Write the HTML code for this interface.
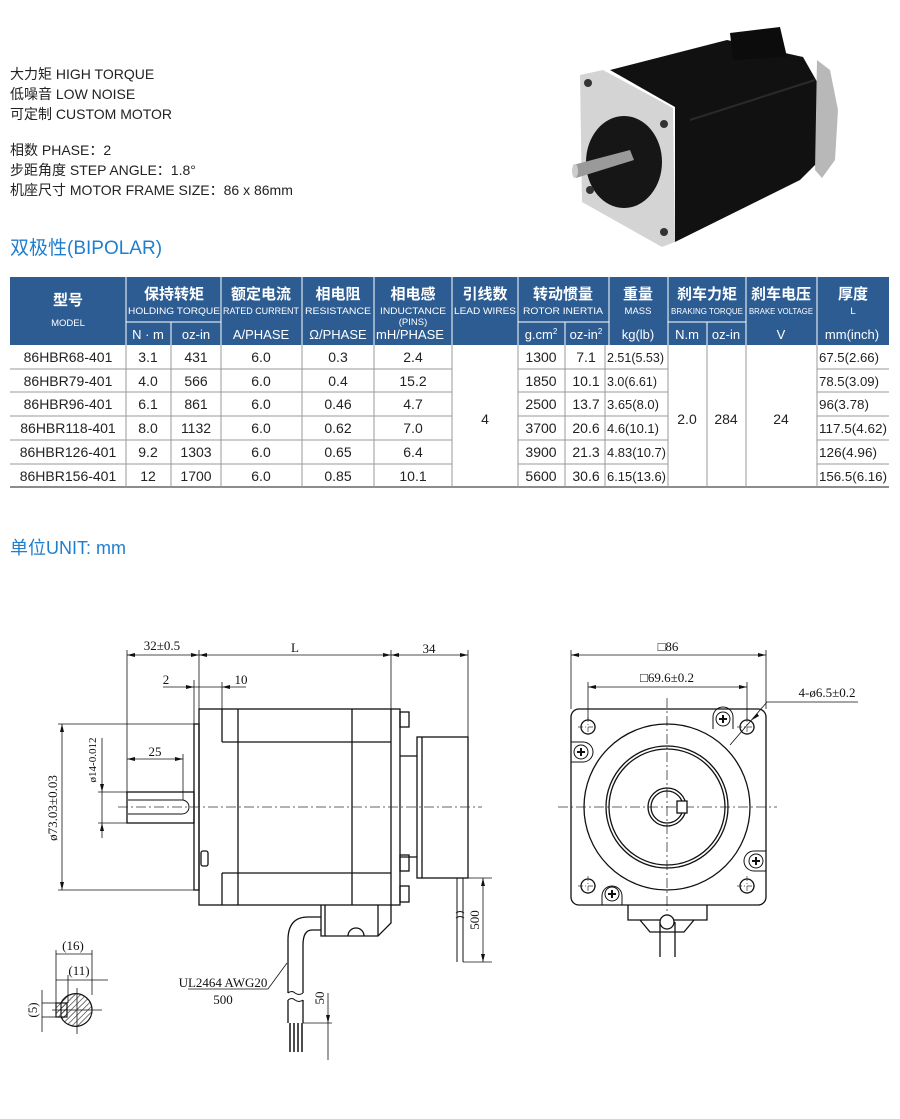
<!DOCTYPE html>
<html><head><meta charset="utf-8"><style>
html,body{margin:0;padding:0;background:#fff;}
svg{display:block;font-family:"Liberation Sans","Noto Sans CJK SC",sans-serif;}
.d{font-family:"Liberation Serif","Noto Serif CJK SC",serif;font-size:13px;fill:#111;}
</style></head><body>
<svg width="900" height="1119" viewBox="0 0 900 1119" xmlns="http://www.w3.org/2000/svg">
<!-- intro text -->
<g font-size="14" fill="#222">
<text x="10" y="79">大力矩 HIGH TORQUE</text>
<text x="10" y="99">低噪音 LOW NOISE</text>
<text x="10" y="119">可定制 CUSTOM MOTOR</text>
<text x="10" y="155">相数 PHASE：2</text>
<text x="10" y="175">步距角度 STEP ANGLE：1.8°</text>
<text x="10" y="195">机座尺寸 MOTOR FRAME SIZE：86 x 86mm</text>
</g>
<text x="10" y="254" font-size="19" fill="#1f7fcf">双极性(BIPOLAR)</text>
<text x="10" y="554" font-size="18" fill="#1f7fcf">单位UNIT: mm</text>

<!-- photo -->
<g>
<polygon points="610,70 727,40 803,57 820,87 817,163 800,180 675,242 675,107" fill="#111"/>
<polygon points="730,33 780,27 787,57 733,60" fill="#0c0c0c"/>
<polygon points="817,60 830,70 838,110 835,160 822,178 815,170" fill="#b8b8b8"/>
<polygon points="580,75 603,70 673,108 675,242 662,247 582,202" fill="#d4d4d4"/>
<ellipse cx="624" cy="162" rx="38" ry="46" fill="#161616"/>
<circle cx="588" cy="83" r="4" fill="#333"/><circle cx="664" cy="124" r="4" fill="#333"/>
<circle cx="590" cy="190" r="4" fill="#333"/><circle cx="664" cy="232" r="4" fill="#333"/>
<polygon points="573,165 630,150 634,160 576,178" fill="#9a9a9a"/>
<ellipse cx="575" cy="171" rx="3" ry="7" fill="#ccc"/>
<line x1="690" y1="120" x2="815" y2="80" stroke="#2a2a2a" stroke-width="2"/>
</g>

<!-- table header -->
<rect x="10" y="277" width="879" height="68" fill="#2d5c92"/>
<g stroke="#fff" stroke-width="1">
<line x1="126" y1="277" x2="126" y2="345"/><line x1="221" y1="277" x2="221" y2="345"/>
<line x1="302" y1="277" x2="302" y2="345"/><line x1="374" y1="277" x2="374" y2="345"/>
<line x1="452" y1="277" x2="452" y2="345"/><line x1="518" y1="277" x2="518" y2="345"/>
<line x1="609" y1="277" x2="609" y2="345"/><line x1="668" y1="277" x2="668" y2="345"/>
<line x1="746" y1="277" x2="746" y2="345"/><line x1="817" y1="277" x2="817" y2="345"/>
<line x1="171" y1="322" x2="171" y2="345"/><line x1="565" y1="322" x2="565" y2="345"/><line x1="707" y1="322" x2="707" y2="345"/>
<line x1="126" y1="322" x2="221" y2="322"/><line x1="518" y1="322" x2="609" y2="322"/><line x1="668" y1="322" x2="746" y2="322"/>
</g>
<g fill="#fff" text-anchor="middle">
<g font-size="15" font-weight="bold">
<text x="68" y="305">型号</text><text x="174" y="299">保持转矩</text><text x="261" y="299">额定电流</text>
<text x="338" y="299">相电阻</text><text x="413" y="299">相电感</text><text x="485" y="299">引线数</text>
<text x="563" y="299">转动惯量</text><text x="638" y="299">重量</text><text x="707" y="299">刹车力矩</text>
<text x="781" y="299">刹车电压</text><text x="853" y="299">厚度</text>
</g>
<g font-size="9.5">
<text x="68" y="326">MODEL</text>
<text x="174" y="314" textLength="92" lengthAdjust="spacingAndGlyphs">HOLDING TORQUE</text>
<text x="261" y="314" textLength="76" lengthAdjust="spacingAndGlyphs">RATED CURRENT</text>
<text x="338" y="314" textLength="66" lengthAdjust="spacingAndGlyphs">RESISTANCE</text>
<text x="413" y="314" textLength="66" lengthAdjust="spacingAndGlyphs">INDUCTANCE</text>
<text x="413" y="325">(PINS)</text>
<text x="485" y="314" textLength="62" lengthAdjust="spacingAndGlyphs">LEAD WIRES</text>
<text x="563" y="314" textLength="80" lengthAdjust="spacingAndGlyphs">ROTOR INERTIA</text>
<text x="638" y="314">MASS</text>
<text x="707" y="314" font-size="8" textLength="72" lengthAdjust="spacingAndGlyphs">BRAKING TORQUE</text>
<text x="781" y="314" font-size="8" textLength="64" lengthAdjust="spacingAndGlyphs">BRAKE VOLTAGE</text>
<text x="853" y="314">L</text>
</g>
<g font-size="13">
<text x="148" y="339">N · m</text><text x="196" y="339">oz-in</text><text x="261" y="339">A/PHASE</text>
<text x="338" y="339">Ω/PHASE</text><text x="410" y="339">mH/PHASE</text>
<text x="541" y="339">g.cm<tspan font-size="8" dy="-5">2</tspan></text>
<text x="586" y="339">oz-in<tspan font-size="8" dy="-5">2</tspan></text>
<text x="638" y="339">kg(lb)</text><text x="687" y="339">N.m</text><text x="726" y="339">oz-in</text>
<text x="781" y="339">V</text><text x="852" y="339">mm(inch)</text>
</g>
</g>
<!-- table body -->
<g stroke="#999" stroke-width="1">
<line x1="10" y1="487" x2="889" y2="487" stroke="#666" stroke-width="1.5"/>
<line x1="10" y1="369" x2="452" y2="369"/><line x1="518" y1="369" x2="668" y2="369"/><line x1="817" y1="369" x2="889" y2="369"/>
<line x1="10" y1="392" x2="452" y2="392"/><line x1="518" y1="392" x2="668" y2="392"/><line x1="817" y1="392" x2="889" y2="392"/>
<line x1="10" y1="416" x2="452" y2="416"/><line x1="518" y1="416" x2="668" y2="416"/><line x1="817" y1="416" x2="889" y2="416"/>
<line x1="10" y1="440" x2="452" y2="440"/><line x1="518" y1="440" x2="668" y2="440"/><line x1="817" y1="440" x2="889" y2="440"/>
<line x1="10" y1="464" x2="452" y2="464"/><line x1="518" y1="464" x2="668" y2="464"/><line x1="817" y1="464" x2="889" y2="464"/>
<line x1="126" y1="345" x2="126" y2="487"/>
<line x1="171" y1="345" x2="171" y2="487"/><line x1="221" y1="345" x2="221" y2="487"/>
<line x1="302" y1="345" x2="302" y2="487"/><line x1="374" y1="345" x2="374" y2="487"/>
<line x1="452" y1="345" x2="452" y2="487"/><line x1="518" y1="345" x2="518" y2="487"/>
<line x1="565" y1="345" x2="565" y2="487"/><line x1="605" y1="345" x2="605" y2="487"/>
<line x1="668" y1="345" x2="668" y2="487"/><line x1="707" y1="345" x2="707" y2="487"/>
<line x1="746" y1="345" x2="746" y2="487"/><line x1="817" y1="345" x2="817" y2="487"/>
</g>
<g font-size="14" fill="#222" text-anchor="middle">
<g><text x="68" y="362">86HBR68-401</text><text x="148" y="362">3.1</text><text x="196" y="362">431</text><text x="261" y="362">6.0</text><text x="338" y="362">0.3</text><text x="413" y="362">2.4</text><text x="541" y="362">1300</text><text x="586" y="362">7.1</text></g>
<g><text x="68" y="386">86HBR79-401</text><text x="148" y="386">4.0</text><text x="196" y="386">566</text><text x="261" y="386">6.0</text><text x="338" y="386">0.4</text><text x="413" y="386">15.2</text><text x="541" y="386">1850</text><text x="586" y="386">10.1</text></g>
<g><text x="68" y="409">86HBR96-401</text><text x="148" y="409">6.1</text><text x="196" y="409">861</text><text x="261" y="409">6.0</text><text x="338" y="409">0.46</text><text x="413" y="409">4.7</text><text x="541" y="409">2500</text><text x="586" y="409">13.7</text></g>
<g><text x="68" y="433">86HBR118-401</text><text x="148" y="433">8.0</text><text x="196" y="433">1132</text><text x="261" y="433">6.0</text><text x="338" y="433">0.62</text><text x="413" y="433">7.0</text><text x="541" y="433">3700</text><text x="586" y="433">20.6</text></g>
<g><text x="68" y="457">86HBR126-401</text><text x="148" y="457">9.2</text><text x="196" y="457">1303</text><text x="261" y="457">6.0</text><text x="338" y="457">0.65</text><text x="413" y="457">6.4</text><text x="541" y="457">3900</text><text x="586" y="457">21.3</text></g>
<g><text x="68" y="481">86HBR156-401</text><text x="148" y="481">12</text><text x="196" y="481">1700</text><text x="261" y="481">6.0</text><text x="338" y="481">0.85</text><text x="413" y="481">10.1</text><text x="541" y="481">5600</text><text x="586" y="481">30.6</text></g>
<text x="485" y="424">4</text><text x="687" y="424">2.0</text><text x="726" y="424">284</text><text x="781" y="424">24</text>
</g>
<g font-size="13" fill="#222" text-anchor="start">
<text x="607" y="362" textLength="57" lengthAdjust="spacingAndGlyphs">2.51(5.53)</text>
<text x="607" y="386" textLength="50" lengthAdjust="spacingAndGlyphs">3.0(6.61)</text>
<text x="607" y="409" textLength="52" lengthAdjust="spacingAndGlyphs">3.65(8.0)</text>
<text x="607" y="433" textLength="52" lengthAdjust="spacingAndGlyphs">4.6(10.1)</text>
<text x="607" y="457" textLength="59" lengthAdjust="spacingAndGlyphs">4.83(10.7)</text>
<text x="607" y="481" textLength="59" lengthAdjust="spacingAndGlyphs">6.15(13.6)</text>
<text x="819" y="362" textLength="60" lengthAdjust="spacingAndGlyphs">67.5(2.66)</text>
<text x="819" y="386" textLength="60" lengthAdjust="spacingAndGlyphs">78.5(3.09)</text>
<text x="819" y="409" textLength="50" lengthAdjust="spacingAndGlyphs">96(3.78)</text>
<text x="819" y="433" textLength="68" lengthAdjust="spacingAndGlyphs">117.5(4.62)</text>
<text x="819" y="457" textLength="58" lengthAdjust="spacingAndGlyphs">126(4.96)</text>
<text x="819" y="481" textLength="68" lengthAdjust="spacingAndGlyphs">156.5(6.16)</text>
</g>

<!-- side view drawing -->
<g stroke="#111" stroke-width="1.3" fill="none">
<rect x="199" y="709" width="201" height="196"/>
<rect x="194" y="724" width="5" height="166"/>
<rect x="127" y="792" width="67" height="31"/>
<path d="M128 800 H182 A7 7 0 0 1 182 814 H128" stroke-width="1"/>
<line x1="222" y1="709" x2="222" y2="742"/><line x1="238" y1="709" x2="238" y2="905"/>
<line x1="352" y1="709" x2="352" y2="905"/><line x1="391" y1="709" x2="391" y2="905"/>
<line x1="222" y1="742" x2="391" y2="742"/><line x1="222" y1="873" x2="391" y2="873"/>
<line x1="222" y1="873" x2="222" y2="905"/>
<rect x="201" y="851" width="7" height="15" rx="2"/>
<rect x="400" y="712" width="9" height="15"/><rect x="400" y="855" width="9" height="16"/><rect x="400" y="886" width="9" height="16"/>
<rect x="417" y="737" width="51" height="141"/><line x1="422" y1="737" x2="422" y2="878"/>
<line x1="400" y1="756" x2="417" y2="756"/><line x1="400" y1="857" x2="417" y2="857"/>
<path d="M321 905 V936 H378 L391 923 V905"/><line x1="325" y1="905" x2="325" y2="936"/><line x1="378" y1="905" x2="378" y2="936"/>
<path d="M348 936 A8 8 0 0 1 364 936"/>
<path d="M321 917 H308 Q288 917 288 940 V993"/>
<path d="M321 930 H312 Q303 930 303 945 V993"/>
<path d="M288 993 q4 -3 7 0 q4 3 8 0" stroke-width="1"/><path d="M288 1000 q4 -3 7 0 q4 3 8 0" stroke-width="1"/>
<path d="M288 1000 V1023 M303 1000 V1023"/>
<path d="M290 1023 V1052 M294 1023 V1052 M298 1023 V1052 M302 1023 V1052" stroke-width="1.5"/>
<path d="M457 878 V962 M463 878 V962" stroke-width="1"/>
<path d="M456 913 q4 -3 8 0 M456 918 q4 -3 8 0" stroke-width="1"/>
</g>
<g stroke="#333" stroke-width="0.8" stroke-dasharray="10,3,2,3" fill="none">
<line x1="118" y1="807" x2="482" y2="807"/>
<line x1="558" y1="807" x2="777" y2="807"/>
<line x1="667" y1="698" x2="667" y2="915"/>
</g>
<g stroke="#111" stroke-width="0.8" fill="none">
<line x1="127" y1="650" x2="127" y2="792"/><line x1="199" y1="650" x2="199" y2="709"/>
<line x1="391" y1="650" x2="391" y2="709"/><line x1="468" y1="650" x2="468" y2="737"/>
<line x1="127" y1="655" x2="468" y2="655"/>
<line x1="163" y1="687" x2="246" y2="687"/><line x1="194" y1="680" x2="194" y2="724"/><line x1="222" y1="682" x2="222" y2="709"/>
<line x1="127" y1="759" x2="183" y2="759"/><line x1="183" y1="754" x2="183" y2="800"/>
<line x1="102" y1="738" x2="102" y2="838"/><line x1="98" y1="792" x2="127" y2="792"/><line x1="98" y1="823" x2="127" y2="823"/>
<line x1="58" y1="724" x2="194" y2="724"/><line x1="58" y1="890" x2="194" y2="890"/><line x1="62" y1="724" x2="62" y2="890"/>
<line x1="463" y1="878" x2="492" y2="878"/><line x1="463" y1="962" x2="492" y2="962"/><line x1="483" y1="878" x2="483" y2="962"/>
<line x1="303" y1="1023" x2="332" y2="1023"/><line x1="328" y1="993" x2="328" y2="1060"/>
<polyline points="188,989 268,989 287,963"/>
</g>
<g fill="#111">
<path d="M127 655 l8 -2 v4z M199 655 l-8 -2 v4z M199 655 l8 -2 v4z M391 655 l-8 -2 v4z M391 655 l8 -2 v4z M468 655 l-8 -2 v4z"/>
<path d="M194 687 l-8 -2 v4z M222 687 l8 -2 v4z M127 759 l8 -2 v4z M183 759 l-8 -2 v4z"/>
<path d="M102 792 l-2 -8 h4z M102 823 l-2 8 h4z M62 724 l-2 8 h4z M62 890 l-2 -8 h4z"/>
<path d="M483 878 l-2 8 h4z M483 962 l-2 -8 h4z M328 1023 l-2 -8 h4z"/>
</g>
<g class="d" text-anchor="middle">
<text x="162" y="650">32±0.5</text><text x="295" y="652">L</text><text x="429" y="653">34</text>
<text x="166" y="684">2</text><text x="241" y="684">10</text><text x="155" y="756">25</text>
<text x="223" y="987">UL2464 AWG20</text><text x="223" y="1004">500</text>
<text transform="translate(96,760) rotate(-90)" font-size="11">ø14-0.012</text>
<text transform="translate(57,808) rotate(-90)">ø73.03±0.03</text>
<text transform="translate(479,920) rotate(-90)">500</text>
<text transform="translate(324,998) rotate(-90)">50</text>
</g>
<defs><pattern id="h" width="4" height="4" patternUnits="userSpaceOnUse" patternTransform="rotate(45)"><line x1="0" y1="0" x2="0" y2="4" stroke="#222" stroke-width="1.2"/></pattern></defs>
<g stroke="#111" stroke-width="1.2">
<path d="M61 1003 A16.3 16.3 0 1 1 61 1017 Z" fill="url(#h)"/>
<rect x="56" y="1003" width="11" height="14" fill="url(#h)"/>
</g>
<g stroke="#111" stroke-width="0.8" fill="none">
<line x1="77" y1="988" x2="77" y2="1034"/><line x1="52" y1="1010" x2="102" y2="1010"/>
<line x1="56" y1="950" x2="56" y2="1003"/><line x1="92" y1="950" x2="92" y2="995"/><line x1="56" y1="954" x2="92" y2="954"/>
<line x1="68" y1="975" x2="68" y2="1003"/><line x1="56" y1="980" x2="108" y2="980"/>
<line x1="42" y1="1003" x2="56" y2="1003"/><line x1="42" y1="1017" x2="56" y2="1017"/><line x1="42" y1="990" x2="42" y2="1032"/>
</g>
<g class="d" text-anchor="middle" font-size="12">
<text x="73" y="950">(16)</text><text x="79" y="975">(11)</text>
<text transform="translate(37,1010) rotate(-90)">(5)</text>
</g>

<!-- front view -->
<g stroke="#111" stroke-width="1.3" fill="none">
<rect x="571" y="709" width="195" height="196" rx="8"/>
<circle cx="667" cy="807" r="83"/>
<circle cx="667" cy="807" r="61"/><circle cx="667" cy="807" r="58"/>
<circle cx="667" cy="807" r="19"/><circle cx="667" cy="807" r="16"/>
<rect x="677" y="801" width="10" height="12" fill="#fff"/>
<circle cx="588" cy="727" r="7"/><circle cx="747" cy="727" r="7"/>
<circle cx="588" cy="886" r="7"/><circle cx="747" cy="886" r="7"/>
<path d="M628 905 V920 H707 V905 M640 920 L650 932 H684 L694 920"/>
<path d="M660 922 V957 M675 922 V957"/><circle cx="667" cy="922" r="7" fill="#fff"/>
</g>
<g stroke="#111" stroke-width="1">
<g transform="translate(723,719)"><path d="M-10 10 V-2 A10 10 0 0 1 10 -2 V10" fill="none"/><circle r="7" fill="#fff"/><path d="M-4 0H4M0 -4V4" stroke-width="2"/></g>
<g transform="translate(581,752)"><path d="M-10 -10 H2 A10 10 0 0 1 2 10 H-10" fill="none"/><circle r="7" fill="#fff"/><path d="M-4 0H4M0 -4V4" stroke-width="2"/></g>
<g transform="translate(756,861)"><path d="M10 -10 H-2 A10 10 0 0 0 -2 10 H10" fill="none"/><circle r="7" fill="#fff"/><path d="M-4 0H4M0 -4V4" stroke-width="2"/></g>
<g transform="translate(612,894)"><path d="M-10 11 V2 A10 10 0 0 1 10 2 V11" fill="none"/><circle r="7" fill="#fff"/><path d="M-4 0H4M0 -4V4" stroke-width="2"/></g>
</g>
<g stroke="#333" stroke-width="0.7" stroke-dasharray="5,2,1,2">
<line x1="578" y1="727" x2="598" y2="727"/><line x1="588" y1="717" x2="588" y2="737"/>
<line x1="737" y1="727" x2="757" y2="727"/><line x1="747" y1="717" x2="747" y2="737"/>
<line x1="578" y1="886" x2="598" y2="886"/><line x1="588" y1="876" x2="588" y2="896"/>
<line x1="737" y1="886" x2="757" y2="886"/><line x1="747" y1="876" x2="747" y2="896"/>
</g>
<g stroke="#111" stroke-width="0.8" fill="none">
<line x1="571" y1="650" x2="571" y2="709"/><line x1="766" y1="650" x2="766" y2="709"/><line x1="571" y1="655" x2="766" y2="655"/>
<line x1="588" y1="682" x2="588" y2="720"/><line x1="747" y1="682" x2="747" y2="720"/><line x1="588" y1="687" x2="747" y2="687"/>
<polyline points="858,702 767,702 730,745"/>
</g>
<g fill="#111">
<path d="M571 655 l8 -2 v4z M766 655 l-8 -2 v4z M588 687 l8 -2 v4z M747 687 l-8 -2 v4z M752 720 l5 -7 2 3z"/>
</g>
<g class="d" text-anchor="middle">
<text x="668" y="651">□86</text><text x="667" y="682">□69.6±0.2</text>
<text x="827" y="697">4-ø6.5±0.2</text>
</g>
</svg>
</body></html>
